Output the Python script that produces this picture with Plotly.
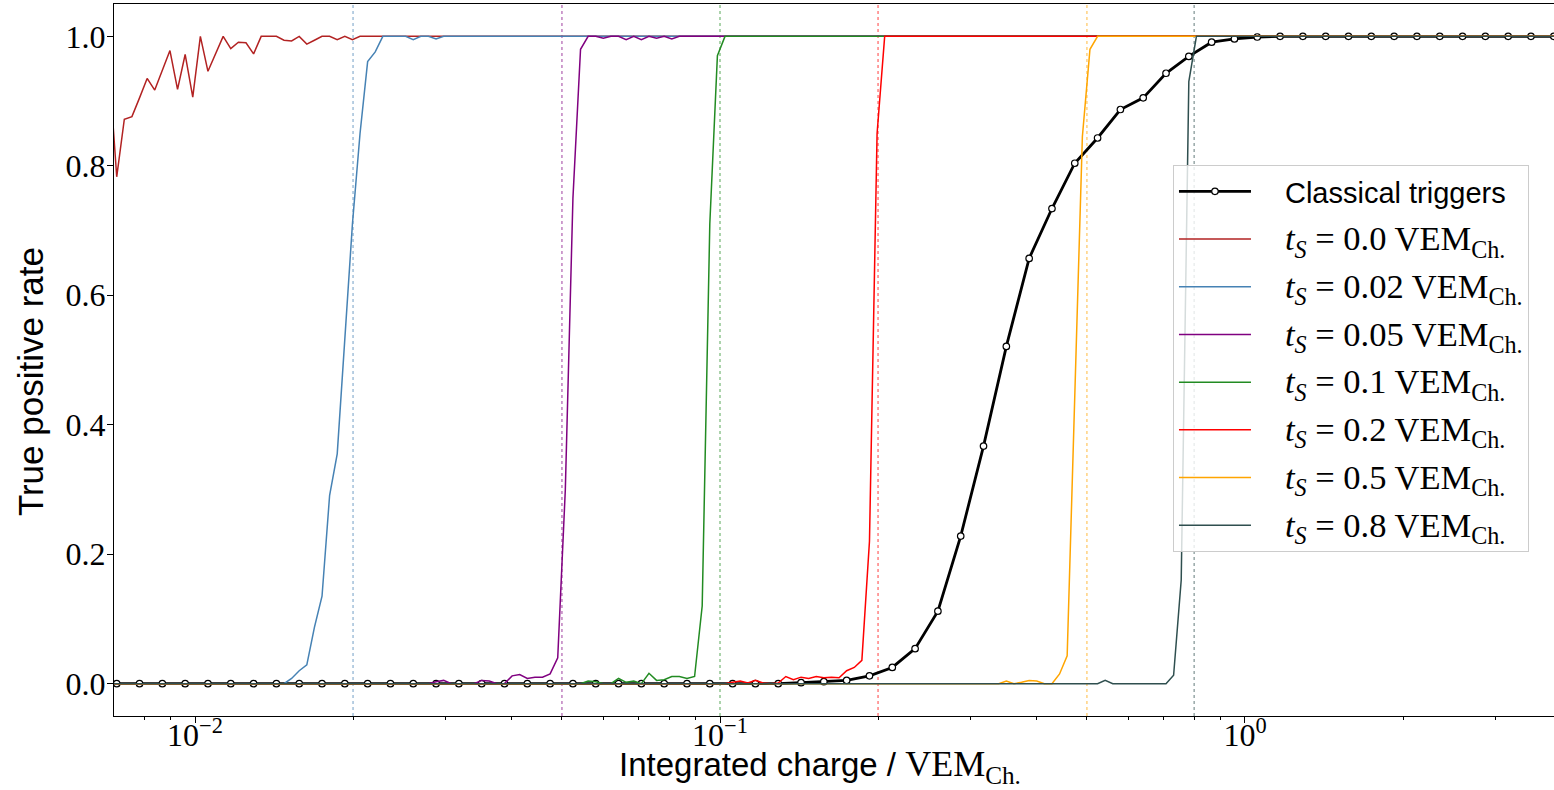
import numpy as np
import plotly.graph_objects as go

# ---------------- data ----------------
# fine log-spaced charge bins (VEM_Ch.) used by the t_S curves
charge_fine = np.logspace(-2.1636, 0.5882, 191)
# coarse bins of the classical triggers (every third fine bin)
charge_coarse = charge_fine[1::3]

classical = ([0.0] * 30 +
             [0.0015, 0.003, 0.005, 0.012, 0.025, 0.054, 0.112, 0.228, 0.367, 0.521,
              0.657, 0.734, 0.804, 0.843, 0.887, 0.905, 0.943, 0.969, 0.991, 0.996, 0.999] +
             [1.0] * 13)

tpr_000 = ([0.95, 0.783, 0.872, 0.876, 0.905, 0.935, 0.917, 0.947, 0.978, 0.918, 0.972,
            0.906, 1.0, 0.946, 0.973, 1.0, 0.981, 0.991, 0.99, 0.973, 1.0, 1.0, 1.0,
            0.994, 0.993, 1.0, 0.988, 0.994, 1.0, 1.0, 0.995, 1.0, 0.995] +
           [1.0] * 158)

tpr_002 = ([0.0] * 23 +
           [0.0, 0.008, 0.02, 0.029, 0.087, 0.135, 0.291, 0.355, 0.532, 0.71, 0.85,
            0.961, 0.976, 1.0, 1.0, 1.0, 1.0, 0.995, 1.0, 1.0, 0.996] +
           [1.0] * 147)

tpr_005 = ([0.0] * 43 +
           [0.003, 0.005, 0.0, 0.0, 0.0, 0.0, 0.005, 0.004, 0.0, 0.0, 0.012, 0.014,
            0.008, 0.010, 0.010, 0.015, 0.04, 0.3, 0.75, 0.98, 1.0, 1.0, 0.997, 1.0,
            1.0, 0.995, 1.0, 0.995, 1.0, 0.997, 1.0, 0.996] +
           [1.0] * 116)

tpr_010 = ([0.0] * 63 +
           [0.004, 0.003, 0.0, 0.0, 0.008, 0.002, 0.004, 0.0, 0.016, 0.005, 0.006,
            0.011, 0.011, 0.008, 0.011, 0.12, 0.71, 0.97, 1.0] +
           [1.0] * 109)

tpr_020 = ([0.0] * 82 +
           [0.002, 0.004, 0.001, 0.005, 0.001, 0.0, 0.001, 0.011, 0.006, 0.010, 0.008,
            0.011, 0.009, 0.010, 0.009, 0.02, 0.025, 0.036, 0.22, 0.85, 1.0] +
           [1.0] * 88)

tpr_050 = ([0.0] * 118 +
           [0.004, 0.0, 0.002, 0.005, 0.004, 0.0, 0.0, 0.015, 0.043, 0.44, 0.845, 0.98, 1.0] +
           [1.0] * 60)

tpr_080 = ([0.0] * 131 +
           [0.005, 0.0, 0.0, 0.0, 0.0, 0.0, 0.0, 0.0, 0.0, 0.013, 0.16, 0.93, 1.0] +
           [1.0] * 47)

thresholds = [0.0, 0.02, 0.05, 0.1, 0.2, 0.5, 0.8]
threshold_labels = ["0.0", "0.02", "0.05", "0.1", "0.2", "0.5", "0.8"]
series = [tpr_000, tpr_002, tpr_005, tpr_010, tpr_020, tpr_050, tpr_080]
colors = ["#b22222", "#4682b4", "#800080", "#228b22", "#ff0000", "#ffa500", "#2f4f4f"]

y_ticks = [0.0, 0.2, 0.4, 0.6, 0.8, 1.0]
x_ticks = [0.01, 0.1, 1.0]
x_ticktext = ["10<sup>−2</sup>", "10<sup>−1</sup>", "10<sup>0</sup>"]

for s in series:
    assert len(s) == len(charge_fine)
assert len(classical) == len(charge_coarse)

SERIF = "Liberation Serif"
SANS = "Liberation Sans"
GAP = "\u2003"  # spacing between legend sample and its text

fig = go.Figure()

fig.add_trace(go.Scatter(
    x=charge_coarse, y=classical, mode="lines+markers",
    name=GAP + "Classical triggers",
    line=dict(color="black", width=2.8),
    marker=dict(size=6.5, color="white", line=dict(color="black", width=1.2)),
    legendgroup="g0",
))

for i, (t, lab, ys, c) in enumerate(zip(thresholds, threshold_labels, series, colors)):
    name = (GAP + '<span style="font-family:%s;font-size:34.5px"><i>t</i><sub><i>S</i></sub>'
            ' = %s VEM<sub>Ch.</sub></span>' % (SERIF, lab))
    fig.add_trace(go.Scatter(
        x=charge_fine, y=ys, mode="lines", name=name,
        line=dict(color=c, width=1.5),
        legendgroup="g%d" % (i + 1),
    ))
    if t > 0:
        fig.add_shape(type="line", xref="x", yref="paper", x0=t, x1=t, y0=0, y1=1,
                      line=dict(color=c, width=1, dash="dot"), opacity=0.75, layer="below")

minor_vals = [m * 10.0 ** d for d in (-3, -2, -1, 0) for m in range(2, 10)]

fig.update_layout(
    width=1554, height=790,
    margin=dict(l=114, r=0, t=4, b=74),
    paper_bgcolor="white", plot_bgcolor="white",
    showlegend=True,
    legend=dict(
        x=0.7354, y=0.7739, xanchor="left", yanchor="top",
        bgcolor="rgba(255,255,255,0.8)", bordercolor="#cccccc", borderwidth=1,
        font=dict(family=SANS, size=29, color="black"),
        traceorder="grouped", tracegroupgap=7, itemwidth=72,
    ),
    xaxis=dict(
        type="log",
        range=[-2.1543, 0.5886],
        tickvals=x_ticks, ticktext=x_ticktext,
        ticks="outside", ticklen=6, tickcolor="black",
        tickfont=dict(family=SERIF, size=32, color="black"),
        ticklabelstandoff=-15,
        showgrid=False, zeroline=False,
        showline=True, linecolor="black", linewidth=1, mirror=True,
        minor=dict(tickvals=minor_vals, ticks="outside", ticklen=3, tickcolor="black", showgrid=False),
    ),
    yaxis=dict(
        range=[-0.05, 1.05],
        tickvals=y_ticks, ticktext=["%.1f" % v for v in y_ticks],
        ticks="outside", ticklen=6, tickcolor="black",
        tickfont=dict(family=SERIF, size=32, color="black"),
        ticklabelstandoff=-5,
        showgrid=False, zeroline=False,
        showline=True, linecolor="black", linewidth=1, mirror=True,
    ),
    annotations=[
        dict(text="True positive rate", xref="paper", yref="paper",
             x=-0.0583, y=0.469, textangle=-90, showarrow=False,
             font=dict(family=SANS, size=35, color="black"),
             xanchor="center", yanchor="middle"),
        dict(text='Integrated charge / <span style="font-family:%s;font-size:36px">VEM<sub>Ch.</sub></span>' % SERIF,
             xref="paper", yref="paper", x=0.4903, y=-0.0712, showarrow=False,
             font=dict(family=SANS, size=33, color="black"),
             xanchor="center", yanchor="middle"),
    ],
)

fig.write_html("out.html", config={"displayModeBar": False},
               post_script="document.body.style.margin='0px';document.body.style.overflow='hidden';")
